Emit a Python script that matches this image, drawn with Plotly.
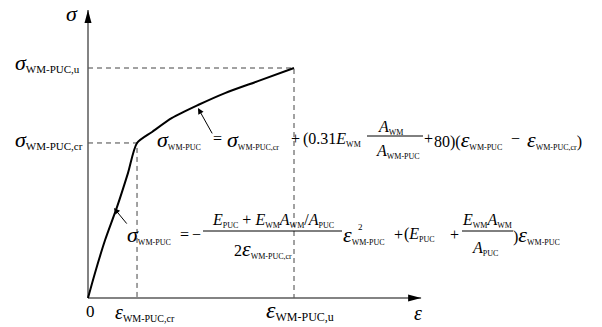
import plotly.graph_objects as go

# ---- data (normalised: strain / eps_u, stress / sigma_u) ----
strain = [0.0, 0.034, 0.083, 0.141, 0.194, 0.238, 0.311, 0.408, 0.534, 0.665, 0.825, 1.0]
stress = [0.0, 0.109, 0.252, 0.396, 0.543, 0.674, 0.722, 0.783, 0.839, 0.891, 0.943, 1.0]
eps_cr, sig_cr = 0.238, 0.674
eps_u, sig_u = 1.0, 1.0
eps_axis_end = 1.617
sig_axis_end = 1.252
# pointer arrows [tip_x, tip_y, tail_x, tail_y]
arrow_upper = [0.534, 0.826, 0.607, 0.709]
arrow_lower = [0.126, 0.391, 0.194, 0.317]

W, H = 602, 327
FONT = "Liberation Serif"

fig = go.Figure()

dash = dict(color="#444444", width=1, dash="5px,4px")
fig.add_trace(go.Scatter(x=[0, eps_u, eps_u], y=[sig_u, sig_u, 0], mode="lines", line=dash))
fig.add_trace(go.Scatter(x=[0, eps_cr, eps_cr], y=[sig_cr, sig_cr, 0], mode="lines", line=dash))

axis_line = dict(color="#5a5a5a", width=1.5)
fig.add_trace(go.Scatter(x=[0, eps_axis_end], y=[0, 0], mode="lines", line=axis_line))
fig.add_trace(go.Scatter(x=[0, 0], y=[0, sig_axis_end], mode="lines", line=axis_line))

fig.add_trace(go.Scatter(x=strain, y=stress, mode="lines",
                         line=dict(color="black", width=2, shape="spline", smoothing=0.7)))

# axis arrowheads
fig.add_shape(type="path", xref="x", yref="y", xsizemode="pixel", ysizemode="pixel",
              xanchor=eps_axis_end, yanchor=0, path="M0,0 L-13,3.5 L-13,-3.5 Z",
              fillcolor="black", line=dict(width=0))
fig.add_shape(type="path", xref="x", yref="y", xsizemode="pixel", ysizemode="pixel",
              xanchor=0, yanchor=sig_axis_end, path="M0,0 L-3.5,-13 L3.5,-13 Z",
              fillcolor="black", line=dict(width=0))

for a in (arrow_upper, arrow_lower):
    fig.add_annotation(x=a[0], y=a[1], ax=a[2], ay=a[3], xref="x", yref="y",
                       axref="x", ayref="y", text="", showarrow=True,
                       arrowhead=2, arrowsize=1.2, arrowwidth=1, arrowcolor="black")


def sym(ch, size):
    return f"<span style='font-size:{size}px'><i>{ch}</i></span>"


def sub(t, size):
    return f"<sub><span style='font-size:{size}px'>{t}</span></sub>"


def txt(html, px, py, size=16, xanchor="left", yanchor="middle"):
    fig.add_annotation(text=html, x=px / W, y=1 - py / H, xref="paper", yref="paper",
                       xanchor=xanchor, yanchor=yanchor, showarrow=False, borderpad=0,
                       font=dict(family=FONT, size=size, color="black"))


def hbar(x0, x1, py):
    fig.add_shape(type="line", xref="paper", yref="paper", x0=x0 / W, x1=x1 / W,
                  y0=1 - py / H, y1=1 - py / H, line=dict(color="black", width=1))


# axis labels
txt(sym("σ", 22), 72, 13, xanchor="center")
txt(sym("ε", 20), 418, 313, xanchor="center")
txt("0", 90, 311, size=17, xanchor="center")
txt(sym("σ", 22) + sub("WM-PUC,u", 11), 14, 62)
txt(sym("σ", 22) + sub("WM-PUC,cr", 11), 14, 139)
txt(sym("ε", 20) + sub("WM-PUC,cr", 10), 114, 312)
txt(sym("ε", 24) + sub("WM-PUC,u", 12), 265, 310)

# formula 1 (upper branch)
S = 22
Y1 = 139
txt(sym("σ", S) + sub("WM-PUC", 8), 156, Y1)
txt("=", 212, Y1 - 1)
txt(sym("σ", S) + sub("WM-PUC,cr", 8), 226, Y1)
txt("+", 290, Y1 - 1)
txt("(0.31<i>E</i>" + sub("WM", 8), 302, Y1)
txt("<i>A</i>" + sub("WM", 8), 390, 127, xanchor="center")
hbar(367, 423, 136)
txt("<i>A</i>" + sub("WM-PUC", 8), 398, 152, xanchor="center")
txt("+", 423, Y1 - 1)
txt("80)(" + sym("ε", S) + sub("WM-PUC", 8), 433, Y1)
txt("−", 510, Y1 - 1)
txt(sym("ε", S) + sub("WM-PUC,cr", 8) + ")", 526, Y1)

# formula 2 (lower branch)
Y2 = 235
txt(sym("σ", S) + sub("WM-PUC", 8), 126, Y2)
txt("=", 179, Y2 - 1)
txt("−", 191, Y2 - 1)
txt("<i>E</i>" + sub("PUC", 8) + " + <i>E</i>" + sub("WM", 8) + "<i>A</i>" + sub("WM", 8)
    + "/<i>A</i>" + sub("PUC", 8), 273, 220, xanchor="center")
hbar(203, 342, 231)
txt("2" + sym("ε", S) + sub("WM-PUC,cr", 8), 263, 248, xanchor="center")
txt(sym("ε", S) + sub("WM-PUC", 8), 342, Y2)
txt("2", 357, 227, size=9)
txt("+", 393, Y2 - 1)
txt("(<i>E</i>" + sub("PUC", 8), 403, Y2)
txt("+", 449, Y2 - 1)
txt("<i>E</i>" + sub("WM", 8) + "<i>A</i>" + sub("WM", 8), 487, 220, xanchor="center")
hbar(462, 513, 231)
txt("<i>A</i>" + sub("PUC", 8), 485, 248, xanchor="center")
txt(")" + sym("ε", S) + sub("WM-PUC", 8), 512, Y2)

fig.update_layout(
    width=W, height=H, margin=dict(l=0, r=0, t=0, b=0),
    paper_bgcolor="white", plot_bgcolor="white", showlegend=False,
    xaxis=dict(range=[-88 / 206, (W - 88) / 206], visible=False, fixedrange=True),
    yaxis=dict(range=[(298 - H) / 230, 298 / 230], visible=False, fixedrange=True),
)
fig.write_html("out.html", config={"displayModeBar": False},
               post_script="document.body.style.margin='0';")
